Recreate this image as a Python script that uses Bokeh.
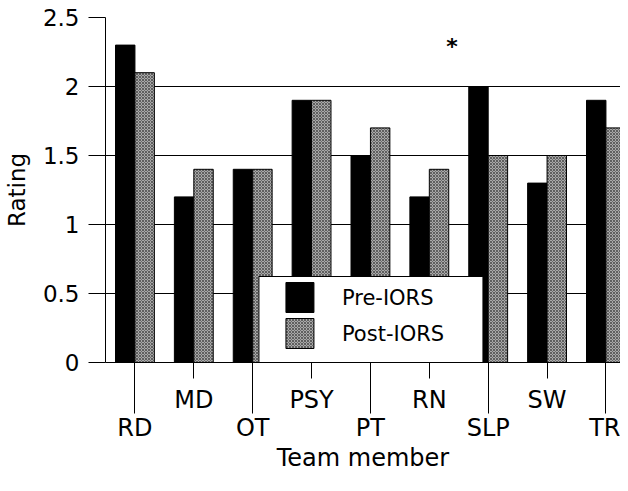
import numpy as np
from bokeh.plotting import figure
from bokeh.models import Range1d, FixedTicker, LinearAxis
from bokeh.core.properties import value
from bokeh.embed import file_html
from bokeh.resources import INLINE

# ---- data ----
categories = ["RD", "MD", "OT", "PSY", "PT", "RN", "SLP", "SW", "TR"]
pre_iors = [2.3, 1.2, 1.4, 1.9, 1.5, 1.2, 2.0, 1.3, 1.9]
post_iors = [2.1, 1.4, 1.4, 1.9, 1.7, 1.4, 1.5, 1.5, 1.7]
y_ticks = [0, 0.5, 1, 1.5, 2, 2.5]
y_tick_labels = ["0", "0.5", "1", "1.5", "2", "2.5"]
series_names = ["Pre-IORS", "Post-IORS"]
x_title = "Team member"
y_title = "Rating"
star_pos = (5.384, 2.29)

FONT = "DejaVu Sans"
GREY = "#a8a8a8"
idx = np.arange(len(categories))
bw = 0.33

W, H = 620, 475
LEFT, TOP, BOTTOM_PX = 105, 17, 362
p = figure(width=W, height=H, output_backend="svg", toolbar_location=None,
           x_range=Range1d(-0.5, -0.5 + (W - LEFT) / 58.875), y_range=Range1d(0, 2.5),
           x_axis_type=None,
           min_border_left=LEFT, min_border_right=0, min_border_top=TOP,
           min_border_bottom=H - BOTTOM_PX)
p.outline_line_color = None
p.background_fill_color = "white"

# y axis
ya = p.yaxis[0]
ya.ticker = FixedTicker(ticks=y_ticks)
ya.major_label_overrides = {t: l for t, l in zip(y_ticks, y_tick_labels)}
ya.major_tick_out = 17
ya.major_tick_in = 0
ya.minor_tick_line_color = None
ya.axis_line_color = "black"
ya.major_tick_line_color = "black"
ya.major_label_standoff = 9
ya.major_label_text_font = FONT
ya.major_label_text_font_size = "23px"
ya.major_label_text_color = "black"
ya.axis_label = y_title
ya.axis_label_text_font = FONT
ya.axis_label_text_font_size = "23px"
ya.axis_label_text_font_style = "normal"
ya.axis_label_text_color = "black"
ya.axis_label_standoff = 10

odd = [int(i) for i in idx if i % 2 == 1]
even = [int(i) for i in idx if i % 2 == 0]

# grids
p.ygrid.ticker = FixedTicker(ticks=y_ticks)
p.ygrid.grid_line_color = "black"
p.xgrid.ticker = FixedTicker(ticks=odd)
p.xgrid.grid_line_color = "black"

# staggered category axis: upper row with short ticks, long ticks for lower row
ax1 = LinearAxis(ticker=FixedTicker(ticks=odd, minor_ticks=even),
                 major_label_overrides={i: categories[i] for i in odd},
                 major_tick_out=16, major_tick_in=0,
                 minor_tick_out=51, minor_tick_in=0,
                 axis_line_color="black", major_tick_line_color="black",
                 minor_tick_line_color="black",
                 major_label_standoff=-28,
                 major_label_text_font=FONT, major_label_text_font_size="24px",
                 major_label_text_color="black")
p.add_layout(ax1, "below")
ax2 = LinearAxis(ticker=FixedTicker(ticks=even, minor_ticks=[]),
                 major_label_overrides={i: categories[i] for i in even},
                 major_tick_line_color=None, minor_tick_line_color=None,
                 axis_line_color=None, major_tick_out=0, major_tick_in=0,
                 major_label_standoff=-3,
                 major_label_text_font=FONT, major_label_text_font_size="24px",
                 major_label_text_color="black",
                 axis_label=x_title, axis_label_standoff=-1,
                 axis_label_text_font=FONT, axis_label_text_font_size="24px",
                 axis_label_text_font_style="normal", axis_label_text_color="black")
p.add_layout(ax2, "below")

# bars
p.vbar(x=idx - bw / 2, width=bw, top=pre_iors, bottom=0,
       fill_color="black", line_color="black", line_width=1)
p.vbar(x=idx + bw / 2, width=bw, top=post_iors, bottom=0,
       fill_color=GREY, line_color="black", line_width=1,
       hatch_pattern="diagonal_cross", hatch_scale=3, hatch_color="#404040",
       hatch_weight=1, hatch_alpha=0.7)

# significance marker
p.text(x=[star_pos[0]], y=[star_pos[1]], text=["*"], text_font=value(FONT),
       text_font_size="22px", text_align="center", text_baseline="alphabetic",
       text_color="black", text_font_style="bold")

# legend (drawn by hand, pixel layout converted to data units)
x0px, sx = 134.0, 58.875   # pixel of category 0, px per category
y0px, sy = 362.0, 138.0    # pixel of rating 0, px per rating unit
def dx(px): return (px - x0px) / sx
def dy(py): return (y0px - py) / sy

p.quad(left=[dx(258)], right=[dx(482)], bottom=[0], top=[dy(276)],
       fill_color="white", line_color="black", line_width=1)
p.quad(left=[dx(285)], right=[dx(313)], bottom=[dy(312)], top=[dy(282)],
       fill_color="black", line_color="black")
p.quad(left=[dx(285)], right=[dx(313)], bottom=[dy(348)], top=[dy(318)],
       fill_color=GREY, line_color="black",
       hatch_pattern="diagonal_cross", hatch_scale=3, hatch_color="#404040",
       hatch_weight=1, hatch_alpha=0.7)
p.text(x=[dx(341), dx(341)], y=[dy(297), dy(333)], text=series_names,
       text_font=value(FONT), text_font_size="21px", text_baseline="middle",
       text_align="left", text_color="black")

open("out.html", "w").write(file_html(p, INLINE))
